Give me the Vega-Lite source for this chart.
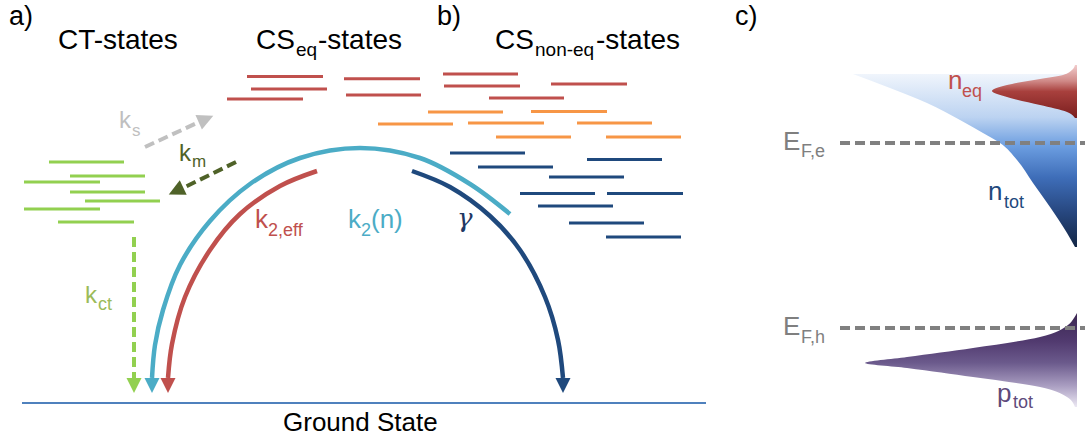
{
  "$schema": "https://vega.github.io/schema/vega-lite/v6.json",
  "width": 1085,
  "height": 441,
  "padding": 0,
  "autosize": {"type": "none"},
  "background": "#ffffff",
  "config": {"view": {"stroke": null}, "text": {"font": "Liberation Sans"}},
  "datasets": {
    "levels": [
      {"series": "eq", "x": 247, "x2": 323, "y": 76.5},
      {"series": "eq", "x": 251, "x2": 327, "y": 89},
      {"series": "eq", "x": 227, "x2": 303, "y": 99},
      {"series": "eq", "x": 344, "x2": 420, "y": 78.7},
      {"series": "eq", "x": 346, "x2": 421, "y": 95},
      {"series": "eq", "x": 443, "x2": 518, "y": 74},
      {"series": "eq", "x": 444, "x2": 520, "y": 86},
      {"series": "eq", "x": 551, "x2": 627, "y": 84},
      {"series": "eq", "x": 489, "x2": 564, "y": 98},
      {"series": "mid", "x": 428, "x2": 503, "y": 112},
      {"series": "mid", "x": 378, "x2": 453, "y": 124},
      {"series": "mid", "x": 468, "x2": 544, "y": 123},
      {"series": "mid", "x": 531, "x2": 607, "y": 111.5},
      {"series": "mid", "x": 577, "x2": 652, "y": 123},
      {"series": "mid", "x": 496, "x2": 571, "y": 137},
      {"series": "mid", "x": 606, "x2": 681, "y": 137},
      {"series": "noneq", "x": 450, "x2": 525, "y": 153},
      {"series": "noneq", "x": 478, "x2": 553, "y": 167},
      {"series": "noneq", "x": 587, "x2": 662, "y": 159.5},
      {"series": "noneq", "x": 549, "x2": 624, "y": 177},
      {"series": "noneq", "x": 520, "x2": 595, "y": 193.5},
      {"series": "noneq", "x": 607, "x2": 683, "y": 193.5},
      {"series": "noneq", "x": 538, "x2": 613, "y": 206},
      {"series": "noneq", "x": 569, "x2": 644, "y": 223},
      {"series": "noneq", "x": 606, "x2": 681, "y": 237},
      {"series": "ct", "x": 49, "x2": 124, "y": 162},
      {"series": "ct", "x": 70, "x2": 145, "y": 176},
      {"series": "ct", "x": 24, "x2": 100, "y": 182},
      {"series": "ct", "x": 70, "x2": 145, "y": 192},
      {"series": "ct", "x": 85, "x2": 160, "y": 201},
      {"series": "ct", "x": 24, "x2": 100, "y": 209},
      {"series": "ct", "x": 58, "x2": 134, "y": 222}
    ],
    "ground": [{"x": 22, "x2": 706, "y": 403}],
    "arcs": [
      {"series": "k2", "o": 1, "x": 510, "y": 214},
      {"series": "k2", "o": 2, "x": 470, "y": 184},
      {"series": "k2", "o": 3, "x": 420, "y": 158},
      {"series": "k2", "o": 4, "x": 360, "y": 148},
      {"series": "k2", "o": 5, "x": 300, "y": 158},
      {"series": "k2", "o": 6, "x": 250, "y": 184},
      {"series": "k2", "o": 7, "x": 210, "y": 221},
      {"series": "k2", "o": 8, "x": 180, "y": 265},
      {"series": "k2", "o": 9, "x": 163, "y": 310},
      {"series": "k2", "o": 10, "x": 155, "y": 345},
      {"series": "k2", "o": 11, "x": 152, "y": 378},
      {"series": "k2eff", "o": 1, "x": 317, "y": 171},
      {"series": "k2eff", "o": 2, "x": 280, "y": 186},
      {"series": "k2eff", "o": 3, "x": 240, "y": 214},
      {"series": "k2eff", "o": 4, "x": 210, "y": 250},
      {"series": "k2eff", "o": 5, "x": 185, "y": 297},
      {"series": "k2eff", "o": 6, "x": 172, "y": 344},
      {"series": "k2eff", "o": 7, "x": 168, "y": 378},
      {"series": "gamma", "o": 1, "x": 412, "y": 171},
      {"series": "gamma", "o": 2, "x": 450, "y": 187},
      {"series": "gamma", "o": 3, "x": 490, "y": 216},
      {"series": "gamma", "o": 4, "x": 520, "y": 250},
      {"series": "gamma", "o": 5, "x": 545, "y": 297},
      {"series": "gamma", "o": 6, "x": 558, "y": 340},
      {"series": "gamma", "o": 7, "x": 563, "y": 378}
    ],
    "dashed": [
      {"series": "ks", "o": 1, "x": 145, "y": 147},
      {"series": "ks", "o": 2, "x": 199, "y": 122},
      {"series": "km", "o": 1, "x": 236, "y": 162},
      {"series": "km", "o": 2, "x": 183, "y": 188},
      {"series": "kct", "o": 1, "x": 134, "y": 237},
      {"series": "kct", "o": 2, "x": 134, "y": 378}
    ],
    "downHeads": [
      {"series": "k2", "x": 152, "y": 385.5},
      {"series": "k2eff", "x": 168, "y": 385.5},
      {"series": "gamma", "x": 563, "y": 385.5},
      {"series": "kct", "x": 134, "y": 385.5}
    ],
    "ksHead": [{"x": 206, "y": 119}],
    "kmHead": [{"x": 176, "y": 191}],
    "ntot": [
      {"y": 74, "x": 853},
      {"y": 88, "x": 890},
      {"y": 103, "x": 927},
      {"y": 120, "x": 960},
      {"y": 133, "x": 983},
      {"y": 143, "x": 1000},
      {"y": 160, "x": 1017},
      {"y": 183, "x": 1033},
      {"y": 207, "x": 1050},
      {"y": 233, "x": 1067},
      {"y": 247, "x": 1075}
    ],
    "neq": [
      {"y": 65, "x": 1075},
      {"y": 70, "x": 1072},
      {"y": 75, "x": 1063},
      {"y": 79, "x": 1040},
      {"y": 85, "x": 1007},
      {"y": 91, "x": 992},
      {"y": 97, "x": 1007},
      {"y": 105, "x": 1040},
      {"y": 112, "x": 1067},
      {"y": 118, "x": 1075}
    ],
    "ptot": [
      {"y": 313, "x": 1077},
      {"y": 318, "x": 1074},
      {"y": 325, "x": 1068},
      {"y": 337, "x": 1040},
      {"y": 348, "x": 973},
      {"y": 357, "x": 907},
      {"y": 363, "x": 865},
      {"y": 368, "x": 907},
      {"y": 377, "x": 973},
      {"y": 387, "x": 1040},
      {"y": 397, "x": 1067},
      {"y": 407, "x": 1075}
    ],
    "fermi": [
      {"x": 840, "x2": 1085, "y": 143},
      {"x": 840, "x2": 1085, "y": 328}
    ],
    "labels": [
      {"text": "a)", "x": 9, "y": 25, "series": "black", "role": "panel"},
      {"text": "b)", "x": 437, "y": 25, "series": "black", "role": "panel"},
      {"text": "c)", "x": 735, "y": 25, "series": "black", "role": "panel"},
      {"text": "CT-states", "x": 58, "y": 49, "series": "black", "role": "head"},
      {"text": "CS", "x": 256, "y": 49, "series": "black", "role": "head"},
      {"text": "eq", "x": 296, "y": 56, "series": "black", "role": "hsub"},
      {"text": "-states", "x": 318, "y": 49, "series": "black", "role": "head"},
      {"text": "CS", "x": 495, "y": 49, "series": "black", "role": "head"},
      {"text": "non-eq", "x": 535, "y": 56, "series": "black", "role": "hsub"},
      {"text": "-states", "x": 596, "y": 49, "series": "black", "role": "head"},
      {"text": "Ground State", "x": 283, "y": 431, "series": "black", "role": "main"},
      {"text": "k", "x": 119, "y": 128, "series": "ks", "role": "small"},
      {"text": "s", "x": 132, "y": 136, "series": "ks", "role": "ksub"},
      {"text": "k", "x": 179, "y": 161, "series": "km", "role": "small"},
      {"text": "m", "x": 192, "y": 167, "series": "km", "role": "ksub"},
      {"text": "k", "x": 85, "y": 303, "series": "kct", "role": "small"},
      {"text": "ct", "x": 98, "y": 310, "series": "kct", "role": "sub"},
      {"text": "k", "x": 255, "y": 228, "series": "red", "role": "main"},
      {"text": "2,eff", "x": 268, "y": 236, "series": "red", "role": "sub"},
      {"text": "k", "x": 348, "y": 228, "series": "blue", "role": "main"},
      {"text": "2", "x": 361, "y": 236, "series": "blue", "role": "sub"},
      {"text": "(n)", "x": 371, "y": 228, "series": "blue", "role": "main"},
      {"text": "n", "x": 948, "y": 89, "series": "red", "role": "main"},
      {"text": "eq", "x": 962, "y": 97, "series": "red", "role": "sub"},
      {"text": "E", "x": 783, "y": 150, "series": "gray", "role": "main"},
      {"text": "F,e", "x": 801, "y": 157, "series": "gray", "role": "sub"},
      {"text": "n", "x": 988, "y": 200, "series": "navy", "role": "main"},
      {"text": "tot", "x": 1004, "y": 208, "series": "navy", "role": "sub"},
      {"text": "E", "x": 783, "y": 335, "series": "gray", "role": "main"},
      {"text": "F,h", "x": 801, "y": 343, "series": "gray", "role": "sub"},
      {"text": "p", "x": 997, "y": 402, "series": "purple", "role": "main"},
      {"text": "tot", "x": 1013, "y": 408, "series": "purple", "role": "sub"}
    ],
    "gamma": [{"text": "γ", "x": 457, "y": 227}]
  },
  "encoding": {
    "x": {"field": "x", "type": "quantitative", "scale": {"domain": [0, 1085], "nice": false, "zero": false}, "axis": null},
    "y": {"field": "y", "type": "quantitative", "scale": {"domain": [0, 441], "reverse": true, "nice": false, "zero": false}, "axis": null}
  },
  "layer": [
    {
      "data": {"name": "levels"},
      "mark": {"type": "rule", "strokeWidth": 3},
      "encoding": {
        "x2": {"field": "x2"},
        "color": {"field": "series", "type": "nominal", "legend": null,
          "scale": {"domain": ["eq", "mid", "noneq", "ct"], "range": ["#c0504d", "#f79646", "#1f497d", "#92d050"]}}
      }
    },
    {
      "data": {"name": "ground"},
      "mark": {"type": "rule", "strokeWidth": 2, "color": "#4f81bd"},
      "encoding": {"x2": {"field": "x2"}}
    },
    {
      "data": {"name": "arcs"},
      "mark": {"type": "line", "strokeWidth": 4.5, "interpolate": "catmull-rom", "strokeCap": "butt"},
      "encoding": {
        "order": {"field": "o", "type": "quantitative"},
        "color": {"field": "series", "type": "nominal", "legend": null,
          "scale": {"domain": ["k2", "k2eff", "gamma"], "range": ["#4bacc6", "#c0504d", "#1f497d"]}}
      }
    },
    {
      "data": {"name": "dashed"},
      "mark": {"type": "line", "strokeWidth": 4, "strokeDash": [10, 5]},
      "encoding": {
        "order": {"field": "o", "type": "quantitative"},
        "color": {"field": "series", "type": "nominal", "legend": null,
          "scale": {"domain": ["ks", "km", "kct"], "range": ["#c0c0c0", "#4f6228", "#92d050"]}}
      }
    },
    {
      "data": {"name": "downHeads"},
      "mark": {"type": "point", "filled": true, "opacity": 1, "shape": "M-1,-1L1,-1L0,1Z", "size": 225},
      "encoding": {
        "color": {"field": "series", "type": "nominal", "legend": null,
          "scale": {"domain": ["k2", "k2eff", "gamma", "kct"], "range": ["#4bacc6", "#c0504d", "#1f497d", "#92d050"]}}
      }
    },
    {
      "data": {"name": "ksHead"},
      "mark": {"type": "point", "filled": true, "opacity": 1, "shape": "M-1,-1L1,0L-1,1Z", "size": 256, "angle": -23.8, "color": "#c0c0c0"}
    },
    {
      "data": {"name": "kmHead"},
      "mark": {"type": "point", "filled": true, "opacity": 1, "shape": "M-1,-1L1,0L-1,1Z", "size": 256, "angle": 154.5, "color": "#4f6228"}
    },
    {
      "data": {"name": "ntot"},
      "mark": {"type": "area", "orient": "horizontal", "interpolate": "monotone",
        "color": {"gradient": "linear", "x1": 0, "y1": 0, "x2": 0, "y2": 1,
          "stops": [
            {"offset": 0, "color": "#f0f5fc"},
            {"offset": 0.25, "color": "#bcd3f1"},
            {"offset": 0.42, "color": "#6b9de0"},
            {"offset": 0.6, "color": "#3e6db8"},
            {"offset": 0.8, "color": "#27477f"},
            {"offset": 1, "color": "#132645"}]}},
      "encoding": {
        "x": {"field": "x", "type": "quantitative", "stack": null, "scale": {"domain": [0, 1085], "nice": false, "zero": false}, "axis": null},
        "x2": {"datum": 1077}
      }
    },
    {
      "data": {"name": "neq"},
      "mark": {"type": "area", "orient": "horizontal", "interpolate": "monotone",
        "color": {"gradient": "linear", "x1": 0, "y1": 0, "x2": 0, "y2": 1,
          "stops": [
            {"offset": 0, "color": "#f2cccc"},
            {"offset": 0.3, "color": "#d08a88"},
            {"offset": 0.5, "color": "#a8403d"},
            {"offset": 1, "color": "#7a1e1e"}]}},
      "encoding": {
        "x": {"field": "x", "type": "quantitative", "stack": null, "scale": {"domain": [0, 1085], "nice": false, "zero": false}, "axis": null},
        "x2": {"datum": 1077}
      }
    },
    {
      "data": {"name": "ptot"},
      "mark": {"type": "area", "orient": "horizontal", "interpolate": "monotone",
        "color": {"gradient": "linear", "x1": 0, "y1": 0, "x2": 0, "y2": 1,
          "stops": [
            {"offset": 0, "color": "#3b2752"},
            {"offset": 0.3, "color": "#513a6f"},
            {"offset": 0.53, "color": "#6b5a8c"},
            {"offset": 0.77, "color": "#a89cc0"},
            {"offset": 1, "color": "#ece8f3"}]}},
      "encoding": {
        "x": {"field": "x", "type": "quantitative", "stack": null, "scale": {"domain": [0, 1085], "nice": false, "zero": false}, "axis": null},
        "x2": {"datum": 1077}
      }
    },
    {
      "data": {"name": "fermi"},
      "mark": {"type": "rule", "strokeWidth": 4, "strokeDash": [10, 5], "color": "#808080"},
      "encoding": {"x2": {"field": "x2"}}
    },
    {
      "data": {"name": "labels"},
      "encoding": {
        "text": {"field": "text"},
        "color": {"field": "series", "type": "nominal", "legend": null,
          "scale": {"domain": ["black", "gray", "ks", "km", "kct", "red", "blue", "navy", "purple"],
            "range": ["#000000", "#7f7f7f", "#bfbfbf", "#4f6228", "#9bbb59", "#c0504d", "#4bacc6", "#1f497d", "#604a7b"]}}
      },
      "layer": [
        {"transform": [{"filter": "datum.role === 'panel'"}],
          "mark": {"type": "text", "align": "left", "baseline": "alphabetic", "fontSize": 27}},
        {"transform": [{"filter": "datum.role === 'head'"}],
          "mark": {"type": "text", "align": "left", "baseline": "alphabetic", "fontSize": 28}},
        {"transform": [{"filter": "datum.role === 'hsub'"}],
          "mark": {"type": "text", "align": "left", "baseline": "alphabetic", "fontSize": 19}},
        {"transform": [{"filter": "datum.role === 'main'"}],
          "mark": {"type": "text", "align": "left", "baseline": "alphabetic", "fontSize": 26}},
        {"transform": [{"filter": "datum.role === 'small'"}],
          "mark": {"type": "text", "align": "left", "baseline": "alphabetic", "fontSize": 24}},
        {"transform": [{"filter": "datum.role === 'sub'"}],
          "mark": {"type": "text", "align": "left", "baseline": "alphabetic", "fontSize": 18}},
        {"transform": [{"filter": "datum.role === 'ksub'"}],
          "mark": {"type": "text", "align": "left", "baseline": "alphabetic", "fontSize": 17}}
      ]
    },
    {
      "data": {"name": "gamma"},
      "mark": {"type": "text", "align": "left", "baseline": "alphabetic", "font": "DejaVu Serif", "fontStyle": "italic", "fontSize": 26, "color": "#1f3864"},
      "encoding": {"text": {"field": "text"}}
    }
  ],
  "resolve": {"scale": {"color": "independent"}}
}
